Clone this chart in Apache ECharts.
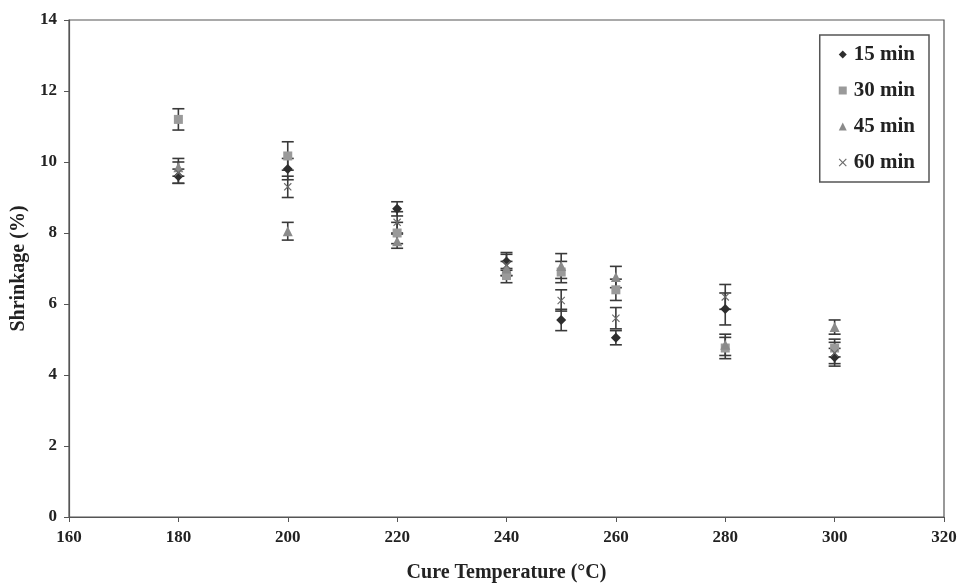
<!DOCTYPE html>
<html><head><meta charset="utf-8">
<script src="https://cdn.jsdelivr.net/npm/echarts@6/dist/echarts.min.js"></script>
<style>html,body{margin:0;padding:0;background:#fff}#c{width:962px;height:584px}</style>
</head><body><div id="c"></div>
<script>
var temps = [180, 200, 220, 240, 250, 260, 280, 300];
var s15 = [9.6, 9.8, 8.68, 7.2, 5.55, 5.05, 5.86, 4.5];
var s30 = [11.2, 10.17, 8.0, 6.8, 6.9, 6.4, 4.76, 4.76];
var s45 = [9.85, 8.05, 7.77, 7.0, 7.07, 6.76, 4.85, 5.35];
var s60 = [9.7, 9.3, 8.3, 7.1, 6.1, 5.6, 6.2, 4.62];
var e15 = [0.2, 0.3, 0.2, 0.25, 0.3, 0.2, 0.45, 0.25];
var e30 = [0.3, 0.4, 0.3, 0.2, 0.3, 0.3, 0.3, 0.25];
var e45 = [0.25, 0.25, 0.2, 0.2, 0.35, 0.3, 0.3, 0.2];
var e60 = [0.3, 0.3, 0.3, 0.3, 0.3, 0.3, 0.35, 0.3];
var names = ['15 min', '30 min', '45 min', '60 min'];
var xTicks = [160, 180, 200, 220, 240, 260, 280, 300, 320];
var yTicks = [0, 2, 4, 6, 8, 10, 12, 14];

var font = '"Liberation Serif", "Times New Roman", serif';
var xMark = 'path://M1,0L5,4L9,0L10,1L6,5L10,9L9,10L5,6L1,10L0,9L4,5L0,1Z';
var vals = [s15, s30, s45, s60];
var errs = [e15, e30, e45, e60];
var symbols = ['diamond', 'rect', 'triangle', xMark];
var sizes = [10, 9, 10, 8];
var colors = ['#2e2e2e', '#9a9a9a', '#8a8a8a', '#6a6a6a'];

function pts(v) { return temps.map(function (t, i) { return [t, v[i]]; }); }
function errData(v, e) { return temps.map(function (t, i) { return [t, v[i] - e[i], v[i] + e[i]]; }); }

var series = [];
vals.forEach(function (v, k) {
  series.push({
    type: 'custom', name: names[k] + ' err', silent: true, z: 2,
    data: errData(v, errs[k]),
    encode: { x: 0, y: [1, 2] },
    renderItem: function (params, api) {
      var lo = api.coord([api.value(0), api.value(1)]);
      var hi = api.coord([api.value(0), api.value(2)]);
      var w = 6;
      var st = { stroke: '#3a3a3a', lineWidth: 1.6 };
      return { type: 'group', children: [
        { type: 'line', shape: { x1: lo[0], y1: lo[1], x2: hi[0], y2: hi[1] }, style: st },
        { type: 'line', shape: { x1: lo[0] - w, y1: lo[1], x2: lo[0] + w, y2: lo[1] }, style: st },
        { type: 'line', shape: { x1: hi[0] - w, y1: hi[1], x2: hi[0] + w, y2: hi[1] }, style: st }
      ]};
    }
  });
});
vals.forEach(function (v, k) {
  series.push({
    type: 'scatter', name: names[k], z: 3,
    data: pts(v), symbol: symbols[k], symbolSize: sizes[k],
    itemStyle: { color: colors[k], opacity: 1 }
  });
});

var chart = echarts.init(document.getElementById('c'));
chart.setOption({
  animation: false,
  backgroundColor: '#fff',
  grid: { left: 69, right: 18, top: 20, bottom: 67, show: true, borderColor: '#555', borderWidth: 1.2,
    containLabel: false, outerBoundsMode: 'none' },
  legend: {
    data: names.map(function (n, k) { return { name: n, icon: k === 3 ? xMark : symbols[k] }; }),
    orient: 'vertical', right: 33, top: 35,
    itemWidth: 8, itemHeight: 8, itemGap: 15,
    borderColor: '#555', borderWidth: 1.5, padding: [9, 14, 9, 19],
    textStyle: { fontFamily: font, fontWeight: 'bold', fontSize: 21, color: '#222', padding: [0, 0, 0, 2] }
  },
  xAxis: {
    type: 'value', min: 160, max: 320, interval: 20,
    name: 'Cure Temperature (°C)', nameLocation: 'middle', nameGap: 46,
    nameTextStyle: { fontFamily: font, fontWeight: 'bold', fontSize: 20, color: '#222' },
    axisLine: { show: true, lineStyle: { color: '#555', width: 1.2 } },
    axisTick: { show: true, length: 5, lineStyle: { color: '#555' } },
    splitLine: { show: false },
    axisLabel: { fontFamily: font, fontWeight: 'bold', fontSize: 17, color: '#222', margin: 12,
      formatter: function (v) { return xTicks.indexOf(v) >= 0 ? String(v) : ''; } }
  },
  yAxis: {
    type: 'value', min: 0, max: 14, interval: 2,
    name: 'Shrinkage (%)', nameLocation: 'middle', nameGap: 34, nameRotate: 90,
    nameTextStyle: { fontFamily: font, fontWeight: 'bold', fontSize: 20, color: '#222' },
    axisLine: { show: true, lineStyle: { color: '#555', width: 1.2 } },
    axisTick: { show: true, length: 5, lineStyle: { color: '#555' } },
    splitLine: { show: false },
    axisLabel: { fontFamily: font, fontWeight: 'bold', fontSize: 17, color: '#222', margin: 12,
      formatter: function (v) { return yTicks.indexOf(v) >= 0 ? String(v) : ''; } }
  },
  series: series
});
</script></body></html>
